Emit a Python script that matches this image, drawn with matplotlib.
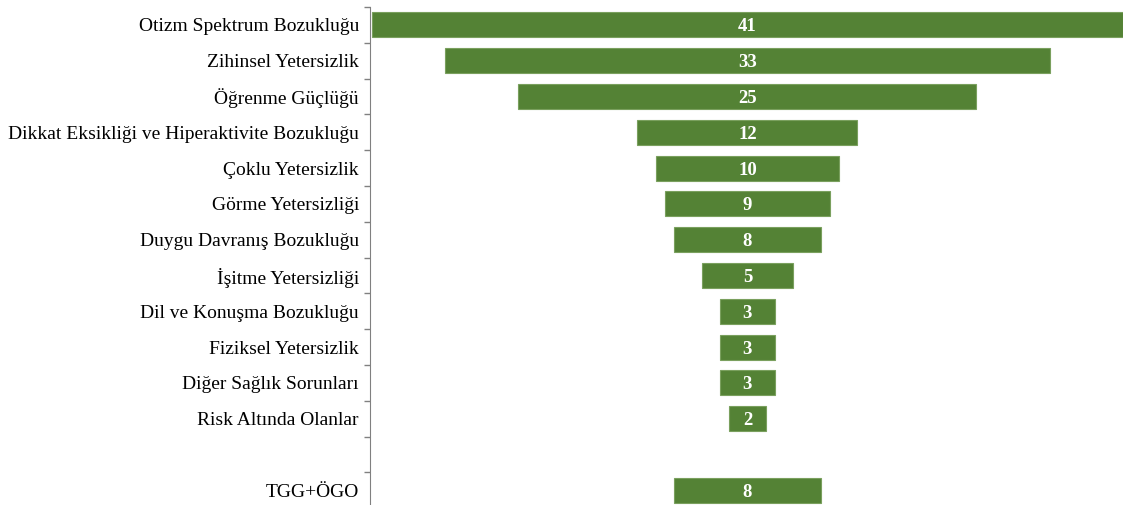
import matplotlib.pyplot as plt

plt.rcParams['font.family'] = ['Liberation Serif', 'DejaVu Serif']

categories = ['Otizm Spektrum Bozukluğu', 'Zihinsel Yetersizlik', 'Öğrenme Güçlüğü',
              'Dikkat Eksikliği ve Hiperaktivite Bozukluğu', 'Çoklu Yetersizlik',
              'Görme Yetersizliği', 'Duygu Davranış Bozukluğu', 'İşitme Yetersizliği',
              'Dil ve Konuşma Bozukluğu', 'Fiziksel Yetersizlik', 'Diğer Sağlık Sorunları',
              'Risk Altında Olanlar', '', 'TGG+ÖGO']
values = [41, 33, 25, 12, 10, 9, 8, 5, 3, 3, 3, 2, None, 8]

fig = plt.figure(figsize=(11.23, 5.05), dpi=100)
ax = fig.add_axes([370 / 1123, 0.0, 1 - 370 / 1123, 1 - 7 / 505])

pos = list(range(len(categories)))
for y, v in zip(pos, values):
    if v is None:
        continue
    ax.barh(y, v, left=-v / 2, height=0.7, color='#548235', edgecolor='#7aa05e', linewidth=0.8)
    ax.text(0, y, str(v), ha='center', va='center_baseline', color='white',
            fontsize=13.5, fontweight='bold')

ax.set_yticks(pos)
ax.set_yticklabels(categories, fontsize=14)
ax.set_yticks([p + 0.5 for p in pos[:-1]] + [-0.5], minor=True)
ax.tick_params(axis='y', which='major', length=0, pad=8)
ax.tick_params(axis='y', which='minor', length=4, color='#808080', width=1)
ax.set_ylim(13.41, -0.5)
ax.set_xlim(-20.6, 20.5)
ax.set_xticks([])
for s in ['top', 'right', 'bottom']:
    ax.spines[s].set_visible(False)
ax.spines['left'].set_color('#808080')

fig.savefig('out.png', dpi=100)
